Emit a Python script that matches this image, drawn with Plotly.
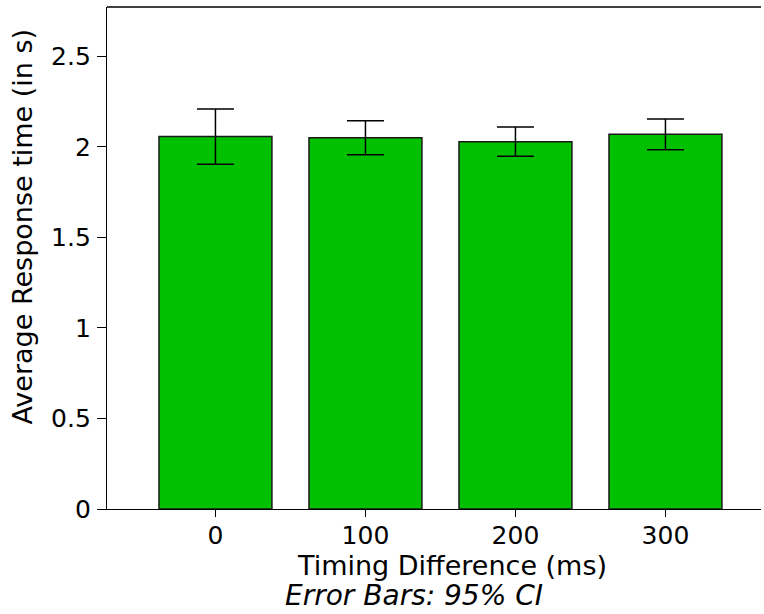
import plotly.graph_objects as go

# timing difference categories and mean response times (s) with 95% CI half-widths
timing = ["0", "100", "200", "300"]
mean_rt = [2.057, 2.051, 2.029, 2.070]
ci95 = [0.153, 0.094, 0.081, 0.085]

FONT = "DejaVu Sans"
PLOT_W = 654  # plot area width in px (107 .. 761)

fig = go.Figure()
fig.add_trace(go.Bar(
    x=timing,
    y=mean_rt,
    width=0.753,
    marker=dict(color="#00C000", line=dict(color="#1a1a1a", width=1.5)),
    error_y=dict(type="data", array=ci95, visible=True,
                 color="black", thickness=1.5, width=18.5),
    showlegend=False,
))

fig.update_layout(
    width=764, height=614,
    margin=dict(l=107, r=3, t=7, b=105),
    plot_bgcolor="white", paper_bgcolor="white",
    font=dict(family=FONT, color="black"),
    xaxis=dict(
        type="category", range=[-0.723, 3.637],
        showline=True, linecolor="black", linewidth=1.3,
        ticks="outside", ticklen=7, tickwidth=1.3, tickcolor="black",
        tickfont=dict(size=25), ticklabelstandoff=-3,
        showgrid=False, zeroline=False,
    ),
    yaxis=dict(
        range=[0, 2.773],
        tickvals=[0, 0.5, 1, 1.5, 2, 2.5],
        ticktext=["0", "0.5", "1", "1.5", "2", "2.5"],
        showline=True, linecolor="black", linewidth=1.3,
        ticks="outside", ticklen=9, tickwidth=1.3, tickcolor="black",
        tickfont=dict(size=25), ticklabelstandoff=1,
        showgrid=False, zeroline=False,
    ),
    shapes=[
        dict(type="line", xref="paper", yref="paper", x0=0, x1=1, y0=1, y1=1,
             line=dict(color="black", width=1.3)),
    ],
    annotations=[
        dict(text="Timing Difference (ms)", xref="paper", yref="paper",
             x=344.5 / PLOT_W, y=-0.1135, xanchor="center", yanchor="middle",
             showarrow=False, font=dict(size=27)),
        dict(text="<i>Error Bars: 95% CI</i>", xref="paper", yref="paper",
             x=307 / PLOT_W, y=-0.1733, xanchor="center", yanchor="middle",
             showarrow=False, font=dict(size=28)),
        dict(text="Average Response time (in s)", xref="paper", yref="paper",
             x=-84 / PLOT_W, y=0.5627, xanchor="center", yanchor="middle",
             textangle=-90, showarrow=False, font=dict(size=27)),
    ],
)

# drop the default 8px body margin so the figure fills the window exactly
fig.write_html("out.html", config={"displayModeBar": False},
               post_script="document.body.style.margin='0';"
                           "document.documentElement.style.overflow='hidden';")
